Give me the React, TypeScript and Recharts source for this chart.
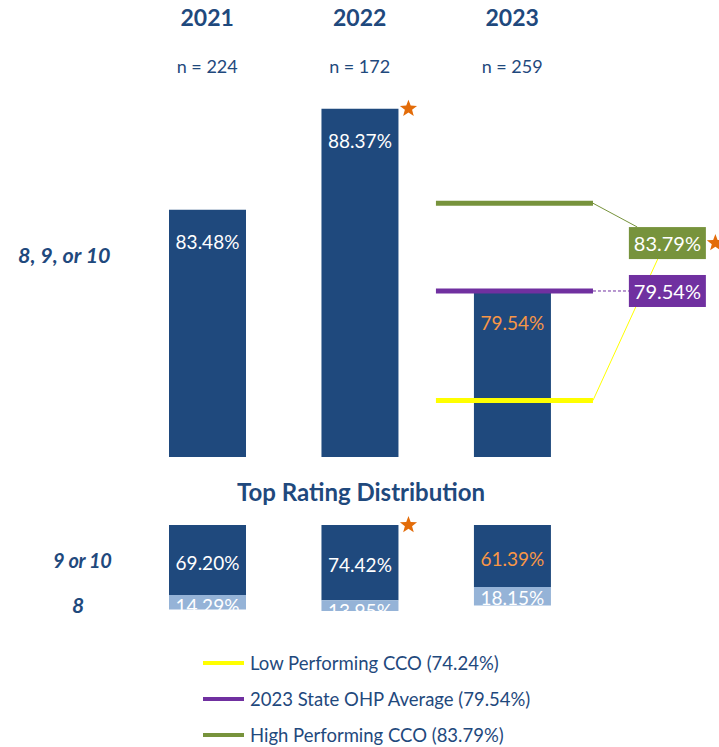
import React from "react";
import {
  Bar,
  BarChart,
  LabelList,
  ReferenceDot,
  ReferenceLine,
  XAxis,
  YAxis,
} from "recharts";

const years = ["2021", "2022", "2023"];
const sampleSizes = [224, 172, 259];
// % answering 8, 9, or 10
const topBox = [83.48, 88.37, 79.54];
// top rating distribution
const nineOrTen = [69.2, 74.42, 61.39];
const eightOnly = [14.29, 13.95, 18.15];
// years flagged with a star
const starredYears = ["2022"];

const benchmarkNames = [
  "Low Performing CCO",
  "2023 State OHP Average",
  "High Performing CCO",
];
const benchmarkValues = [74.24, 79.54, 83.79];

const BLUE = "#1F497D";
const LIGHT_BLUE = "#95B3D7";
const ORANGE = "#F79646";
const STAR = "#E36C09";
const BENCH_COLORS = ["#FFFF00", "#7030A0", "#77933C"];
const FONT = "Lato, 'Noto Sans', sans-serif";

// callout placement (x in category units, y in chart units)
const LINE_FROM = 2;
const LINE_TO = 3.03;
const CALLOUT_X = 3.518;
const CALLOUTS = [
  { end: { x: 3.455, y: 81.09 }, boxY: null as number | null, dashed: false, star: false },
  { end: { x: 3.27, y: 79.54 }, boxY: 79.54, dashed: true, star: false },
  { end: { x: 3.32, y: 82.64 }, boxY: 81.86, dashed: false, star: true },
];

const topData = years.map((year, i) => ({ pos: i + 0.5, year, value: topBox[i] }));
const bottomData = years.map((year, i) => ({
  pos: i + 0.5,
  year,
  top: nineOrTen[i],
  eight: eightOnly[i],
}));

const starPath = (cx: number, cy: number, r: number) => {
  const pts: string[] = [];
  for (let k = 0; k < 10; k++) {
    const rad = k % 2 === 0 ? r : r * 0.42;
    const a = -Math.PI / 2 + (k * Math.PI) / 5;
    pts.push(`${cx + rad * Math.cos(a)},${cy + rad * Math.sin(a)}`);
  }
  return `M${pts.join("L")}Z`;
};

const valueLabel =
  (mode: "top" | "center" | "edge", offset = 0) =>
  (props: any) => {
    const { x, y, width, height, value, index } = props;
    const top = Math.min(Number(y), Number(y) + Number(height));
    const h = Math.abs(Number(height));
    const cx = Number(x) + Number(width) / 2;
    const cy = mode === "center" ? top + h / 2 + 2 : top + offset;
    const fill = mode !== "edge" && index === 2 ? ORANGE : "#FFFFFF";
    return (
      <text
        x={cx}
        y={cy}
        textAnchor="middle"
        dominantBaseline="central"
        fontFamily={FONT}
        fontSize={19}
        fill={fill}
      >
        {`${Number(value).toFixed(2)}%`}
      </text>
    );
  };

const starLabel = (props: any) => {
  const { x, y, width, height, index } = props;
  if (!starredYears.includes(years[index])) return null;
  const top = Math.min(Number(y), Number(y) + Number(height));
  return <path d={starPath(Number(x) + Number(width) + 10, top, 9)} fill={STAR} />;
};

const YearTick = (props: any) => {
  const { x, payload } = props;
  const i = Math.round(payload.value - 0.5);
  return (
    <g>
      <text x={x} y={26} textAnchor="middle" fontFamily={FONT} fontWeight={700} fontSize={23} fill={BLUE}>
        {years[i]}
      </text>
      <text x={x} y={73} textAnchor="middle" fontFamily={FONT} fontSize={18} fill={BLUE}>
        {`n = ${sampleSizes[i]}`}
      </text>
    </g>
  );
};

const calloutBox = (value: number, color: string, star: boolean) => (props: any) => {
  const { cx, cy } = props;
  return (
    <g>
      <rect x={cx - 38.5} y={cy - 16} width={77} height={32} fill={color} />
      <text
        x={cx}
        y={cy}
        textAnchor="middle"
        dominantBaseline="central"
        fontFamily={FONT}
        fontSize={20}
        fill="#FFFFFF"
      >
        {`${value.toFixed(2)}%`}
      </text>
      {star && <path d={starPath(cx + 48, cy, 9)} fill={STAR} />}
    </g>
  );
};

const textStyle: React.CSSProperties = {
  position: "absolute",
  fontFamily: FONT,
  color: BLUE,
  whiteSpace: "nowrap",
};

export default function App() {
  return (
    <div
      style={{
        position: "absolute",
        left: 0,
        top: 0,
        width: 719,
        height: 747,
        background: "#FFFFFF",
        overflow: "hidden",
      }}
    >
      <BarChart
        width={719}
        height={470}
        data={topData}
        margin={{ top: 0, right: 1, bottom: 13, left: 131 }}
      >
        <XAxis
          type="number"
          dataKey="pos"
          orientation="top"
          domain={[0, 3.85]}
          ticks={[0.5, 1.5, 2.5]}
          height={75}
          axisLine={false}
          tickLine={false}
          tick={YearTick}
          allowDataOverflow
        />
        <YAxis hide type="number" domain={[71.5, 90]} allowDataOverflow />
        <Bar dataKey="value" fill={BLUE} barSize={77} isAnimationActive={false}>
          <LabelList dataKey="value" content={valueLabel("top", 32)} />
          <LabelList dataKey="value" content={starLabel} />
        </Bar>
        {benchmarkValues.map((v, i) => (
          <ReferenceLine
            key={`line-${i}`}
            segment={[
              { x: LINE_FROM, y: v },
              { x: LINE_TO, y: v },
            ]}
            stroke={BENCH_COLORS[i]}
            strokeWidth={5}
          />
        ))}
        {benchmarkValues.map((v, i) => (
          <ReferenceLine
            key={`conn-${i}`}
            segment={[
              { x: LINE_TO, y: v },
              { x: CALLOUTS[i].end.x, y: CALLOUTS[i].end.y },
            ]}
            stroke={BENCH_COLORS[i]}
            strokeWidth={1}
            strokeDasharray={CALLOUTS[i].dashed ? "3 2" : undefined}
          />
        ))}
        {benchmarkValues.map((v, i) =>
          CALLOUTS[i].boxY === null ? null : (
            <ReferenceDot
              key={`box-${i}`}
              x={CALLOUT_X}
              y={CALLOUTS[i].boxY as number}
              shape={calloutBox(v, BENCH_COLORS[i], CALLOUTS[i].star)}
            />
          )
        )}
      </BarChart>

      <div style={{ ...textStyle, left: 18, top: 242, fontSize: 21.5, fontWeight: 700, fontStyle: "italic" }}>
        8, 9, or 10
      </div>

      <div
        style={{
          ...textStyle,
          left: 0,
          width: 722,
          top: 477,
          textAlign: "center",
          fontSize: 24,
          fontWeight: 700,
        }}
      >
        Top Rating Distribution
      </div>

      <div style={{ position: "absolute", left: 0, top: 515 }}>
        <BarChart
          width={719}
          height={96}
          data={bottomData}
          margin={{ top: 10, right: 1, bottom: 0, left: 131 }}
        >
          <XAxis hide type="number" dataKey="pos" domain={[0, 3.85]} allowDataOverflow />
          <YAxis hide type="number" reversed domain={[0, 85]} allowDataOverflow />
          <Bar dataKey="top" stackId="a" fill={BLUE} barSize={77} isAnimationActive={false}>
            <LabelList dataKey="top" content={valueLabel("center")} />
            <LabelList dataKey="top" content={starLabel} />
          </Bar>
          <Bar dataKey="eight" stackId="a" fill={LIGHT_BLUE} barSize={77} isAnimationActive={false}>
            <LabelList dataKey="eight" content={valueLabel("edge", 10)} />
          </Bar>
        </BarChart>
      </div>

      <div
        style={{
          ...textStyle,
          left: 53,
          top: 548,
          fontSize: 20,
          letterSpacing: -0.3,
          fontWeight: 700,
          fontStyle: "italic",
        }}
      >
        9 or 10
      </div>
      <div style={{ ...textStyle, left: 72, top: 592, fontSize: 21, fontWeight: 700, fontStyle: "italic" }}>
        8
      </div>

      {benchmarkNames.map((name, i) => (
        <div
          key={name}
          style={{
            position: "absolute",
            left: 203,
            top: 652 + i * 36,
            height: 22,
            display: "flex",
            alignItems: "center",
          }}
        >
          <span
            style={{
              display: "inline-block",
              width: 41,
              height: 4,
              background: BENCH_COLORS[i],
              marginRight: 6,
            }}
          />
          <span style={{ fontFamily: FONT, fontSize: 18.5, color: BLUE, whiteSpace: "nowrap" }}>
            {`${name} (${benchmarkValues[i].toFixed(2)}%)`}
          </span>
        </div>
      ))}
    </div>
  );
}
